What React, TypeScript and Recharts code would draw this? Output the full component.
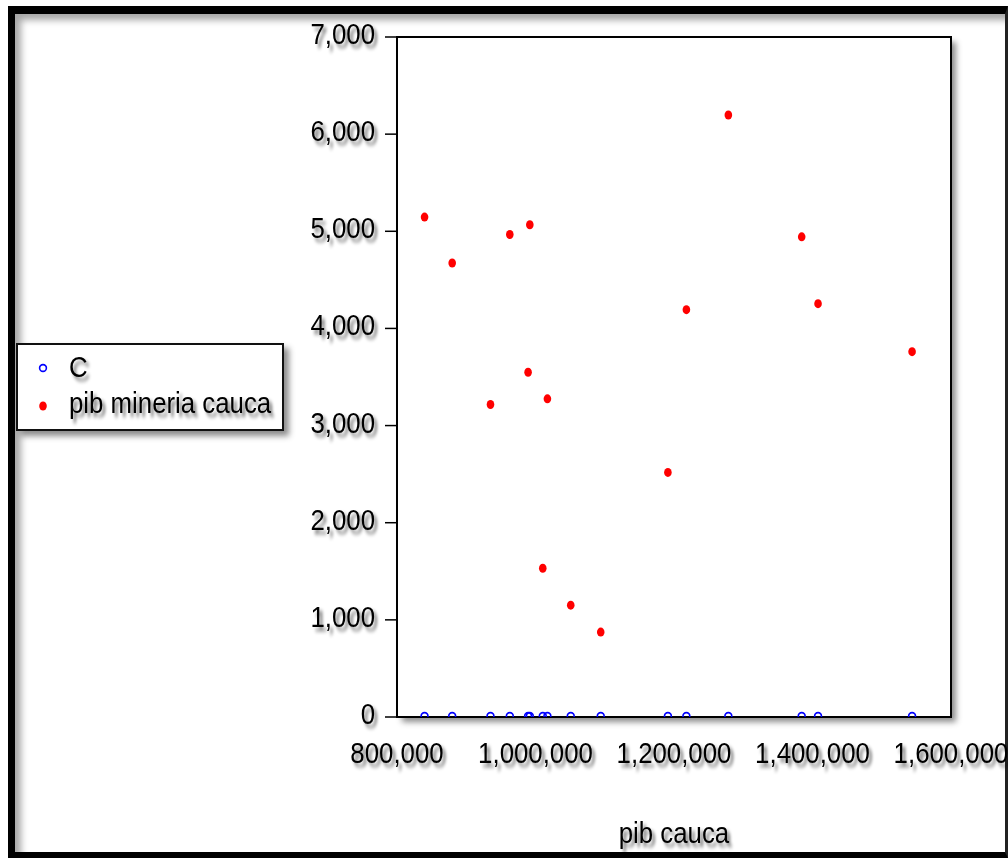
import React from 'react';
import { ScatterChart, Scatter, XAxis, YAxis, ReferenceArea, Legend } from 'recharts';

const pibCauca = [839800, 879700, 935000, 962900, 989300, 991800, 1010500, 1017200, 1050900, 1094200, 1191200, 1217900, 1278500, 1384400, 1408000, 1543800];
const pibMineriaCauca = [5146, 4673, 3217, 4967, 3549, 5067, 1531, 3275, 1151, 874, 2518, 4193, 6197, 4943, 4255, 3761];
const cValues = [0, 0, 0, 0, 0, 0, 0, 0, 0, 0, 0, 0, 0, 0, 0, 0];

const xTicks = [800000, 900000, 1000000, 1100000, 1200000, 1300000, 1400000, 1500000, 1600000];
const yTicks = [0, 1000, 2000, 3000, 4000, 5000, 6000, 7000];
const seriesNames = ['C', 'pib mineria cauca'];
const xLabel = 'pib cauca';

const FONT = "'Liberation Sans', Arial, sans-serif";
const FS = 29;
const SX = 0.89;
const fmt = (v: number) => v.toLocaleString('en-US');

const mineriaData = pibCauca.map((x, i) => ({ x, y: pibMineriaCauca[i] }));
const cData = pibCauca.map((x, i) => ({ x, y: cValues[i] }));

const YTick = (props: any) => {
  const { x, y, payload } = props;
  return (
    <g transform={`translate(${x},${y})`}>
      <text x={0} y={7} textAnchor="end" transform={`scale(${SX},1)`} fontFamily={FONT} fontSize={FS} fill="#000" filter="url(#txtShadow)">
        {fmt(payload.value)}
      </text>
    </g>
  );
};

const XTick = (props: any) => {
  const { x, y, payload } = props;
  const major = payload.value % 200000 === 0;
  return (
    <g transform={`translate(${x},${y})`}>
      <line x1={0} y1={0} x2={0} y2={major ? 16 : 10} stroke="#000" strokeWidth={1.5} filter="url(#lineShadow)" />
      {major && (
        <text x={0} y={46} textAnchor="middle" transform={`scale(${SX},1)`} fontFamily={FONT} fontSize={FS} fill="#000" filter="url(#txtShadow)">
          {fmt(payload.value)}
        </text>
      )}
    </g>
  );
};

const RedDot = (props: any) => {
  const { cx, cy } = props;
  return <ellipse cx={cx} cy={cy} rx={3.8} ry={4.5} fill="#ff0000" />;
};

const BlueCircle = (props: any) => {
  const { cx, cy } = props;
  return <circle cx={cx} cy={cy - 1} r={3.4} fill="none" stroke="#0000ff" strokeWidth={1.6} />;
};

const AxisTitle = (props: any) => {
  const { viewBox } = props;
  return (
    <text x={(viewBox.x + viewBox.width / 2) / SX} y={viewBox.y + 126} textAnchor="middle" transform={`scale(${SX},1)`} fontFamily={FONT} fontSize={FS} fill="#000" filter="url(#txtShadow)">
      {xLabel}
    </text>
  );
};

const LegendBox = () => (
  <div style={{ width: 264, height: 84, border: '2px solid #111', background: '#fff', boxShadow: '5px 5px 6px rgba(0,0,0,0.45)' }}>
    <svg width={264} height={84} style={{ display: 'block' }}>
      <circle cx={25} cy={23} r={3.4} fill="none" stroke="#0000ff" strokeWidth={1.6} />
      <text x={51 / SX} y={32} transform={`scale(${SX},1)`} fontFamily={FONT} fontSize={FS} fill="#000" filter="url(#txtShadow)">{seriesNames[0]}</text>
      <ellipse cx={25} cy={61} rx={3.8} ry={4.5} fill="#ff0000" />
      <text x={51 / SX} y={68} transform={`scale(${SX},1)`} fontFamily={FONT} fontSize={FS} fill="#000" filter="url(#txtShadow)">{seriesNames[1]}</text>
    </svg>
  </div>
);

export default function App() {
  return (
    <div style={{ position: 'fixed', left: 0, top: 0, width: 1008, height: 858, background: '#fff', overflow: 'hidden' }}>
      <svg width={0} height={0} style={{ position: 'absolute' }}>
        <defs>
          <filter id="txtShadow" x="-20%" y="-40%" width="150%" height="200%">
            <feGaussianBlur in="SourceAlpha" stdDeviation="2" result="b" />
            <feOffset in="b" dx="3" dy="4" result="o" />
            <feComponentTransfer in="o" result="s">
              <feFuncA type="linear" slope="0.55" />
            </feComponentTransfer>
            <feMerge>
              <feMergeNode in="s" />
              <feMergeNode in="SourceGraphic" />
            </feMerge>
          </filter>
          <filter id="lineShadow" x="-300%" y="-50%" width="700%" height="250%">
            <feGaussianBlur in="SourceAlpha" stdDeviation="2" result="b" />
            <feOffset in="b" dx="3" dy="3" result="o" />
            <feComponentTransfer in="o" result="s">
              <feFuncA type="linear" slope="0.4" />
            </feComponentTransfer>
            <feMerge>
              <feMergeNode in="s" />
              <feMergeNode in="SourceGraphic" />
            </feMerge>
          </filter>
        </defs>
      </svg>
      <div style={{ position: 'absolute', left: 8, top: 6, width: 1000, height: 852, boxSizing: 'border-box', borderTop: '8px solid #000', borderLeft: '7px solid #000', borderRight: '3px solid #222', borderBottom: '6px solid #000', boxShadow: 'inset 7px 7px 7px -1px rgba(0,0,0,0.35)' }} />
      <div style={{ position: 'absolute', left: 397, top: 37, width: 554, height: 680, background: '#fff', boxShadow: '5px 5px 6px rgba(0,0,0,0.45)' }} />
      <div style={{ position: 'absolute', left: 0, top: 0 }}>
        <ScatterChart width={1008} height={858} margin={{ top: 37, right: 57, bottom: 81, left: 49 }}>
          <XAxis
            type="number"
            dataKey="x"
            domain={[800000, 1600000]}
            ticks={xTicks}
            interval={0}
            height={60}
            tickSize={0}
            tickMargin={0}
            tickLine={false}
            axisLine={{ stroke: '#000', strokeWidth: 2 }}
            tick={<XTick />}
            allowDataOverflow
            label={<AxisTitle />}
          />
          <YAxis
            type="number"
            dataKey="y"
            domain={[0, 7000]}
            ticks={yTicks}
            interval={0}
            width={80}
            tickSize={12}
            tickMargin={10}
            tickLine={{ stroke: '#000', strokeWidth: 1.5 }}
            axisLine={{ stroke: '#000', strokeWidth: 2 }}
            tick={<YTick />}
            allowDataOverflow
          />
          <ReferenceArea x1={800000} x2={1600000} y1={0} y2={7000} fill="none" fillOpacity={0} stroke="#000" strokeWidth={2} ifOverflow="visible" />
          <Scatter name={seriesNames[0]} data={cData} shape={<BlueCircle />} isAnimationActive={false} />
          <Scatter name={seriesNames[1]} data={mineriaData} shape={<RedDot />} isAnimationActive={false} />
          <Legend
            layout="horizontal"
            verticalAlign="middle"
            align="left"
            content={() => <LegendBox />}
            wrapperStyle={{ position: 'absolute', left: 16, top: 343, width: 268, height: 88 }}
          />
        </ScatterChart>
      </div>
    </div>
  );
}
